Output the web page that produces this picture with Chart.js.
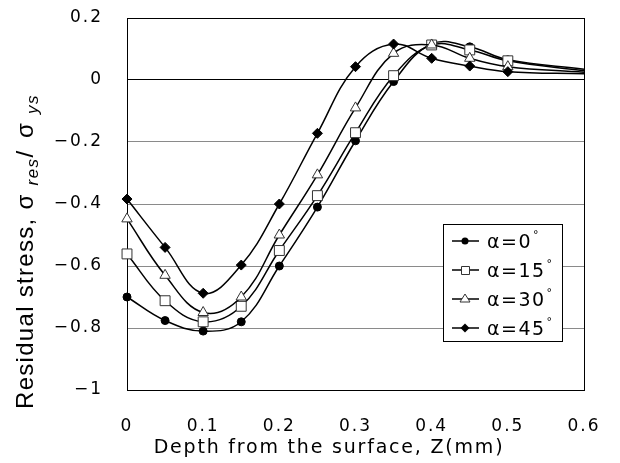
<!DOCTYPE html>
<html>
<head>
<meta charset="utf-8">
<script src="https://cdn.jsdelivr.net/npm/chart.js@4.4.1/dist/chart.umd.min.js"></script>
<style>
html, body { margin: 0; padding: 0; background: #fff; }
</style>
</head>
<body>
<canvas id="chart" width="620" height="463"></canvas>
<script>
// depth (mm) and normalised residual stress
const depth   = [0, 0.05, 0.1, 0.15, 0.2, 0.25, 0.3, 0.35, 0.4, 0.45, 0.5, 0.6];
const alpha0  = [-0.70, -0.776, -0.81, -0.78, -0.60, -0.41, -0.196, -0.005, 0.116, 0.107, 0.065, 0.035];
const alpha15 = [-0.561, -0.712, -0.78, -0.73, -0.55, -0.373, -0.17, 0.014, 0.113, 0.097, 0.062, 0.03];
const alpha30 = [-0.448, -0.63, -0.75, -0.70, -0.50, -0.306, -0.09, 0.086, 0.113, 0.07, 0.043, 0.025];
const alpha45 = [-0.384, -0.54, -0.688, -0.597, -0.40, -0.172, 0.043, 0.116, 0.07, 0.045, 0.027, 0.02];
const seriesNames = ["α=0", "α=15", "α=30", "α=45"];
const xTicks = [0, 0.1, 0.2, 0.3, 0.4, 0.5, 0.6];
const yTicks = [0.2, 0, -0.2, -0.4, -0.6, -0.8, -1];

const tickFont = "DejaVu Sans";

function pts(vals) {
    return vals.map((v, i) => ({ x: depth[i], y: v }));
}
// no marker on the last (tail) point
const radii = (r) => depth.map((d, i) => i === depth.length - 1 ? 0 : r);

const styles = [
    { pointStyle: "circle", r: 4, fill: "#000" },
    { pointStyle: "rect", r: 7, fill: "#fff" },
    { pointStyle: "triangle", r: 6, fill: "#fff" },
    { pointStyle: "rectRot", r: 5, fill: "#000" }
];
const allSeries = [alpha0, alpha15, alpha30, alpha45];

let data = {
    datasets: allSeries.map((s, k) => ({
        label: seriesNames[k],
        data: pts(s),
        borderColor: "#000",
        borderWidth: 1.5,
        backgroundColor: styles[k].fill,
        pointStyle: styles[k].pointStyle,
        pointRadius: radii(styles[k].r),
        pointBackgroundColor: styles[k].fill,
        pointBorderColor: k === 0 || k === 3 ? "#000" : "#333",
        pointBorderWidth: 1,
        tension: 0.4,
        clip: false
    })).reverse()
};

/* letter spacing for library-drawn ticks */
const spacing = {
    id: "spacing",
    beforeDraw(chart) { chart.ctx.letterSpacing = "2px"; },
    afterDraw(chart) { chart.ctx.letterSpacing = "0px"; }
};

/* frame round the plot area */
const frame = {
    id: "frame",
    beforeDatasetsDraw(chart) {
        const a = chart.chartArea, ctx = chart.ctx;
        ctx.save();
        ctx.strokeStyle = "#000";
        ctx.lineWidth = 1;
        ctx.strokeRect(Math.round(a.left) + 0.5, Math.round(a.top) + 0.5,
            Math.round(a.right - a.left), Math.round(a.bottom - a.top));
        ctx.restore();
    }
};

/* axis titles with subscripts, and the legend box */
const extras = {
    id: "extras",
    afterDraw(chart) {
        const ctx = chart.ctx;
        ctx.save();
        ctx.fillStyle = "#000";
        ctx.textBaseline = "alphabetic";

        // x title
        ctx.letterSpacing = "1.8px";
        ctx.font = "19px 'DejaVu Sans'";
        ctx.textAlign = "center";
        ctx.fillText("Depth from the surface, Z(mm)", 329, 453);

        // y title
        ctx.textAlign = "left";
        ctx.save();
        ctx.translate(33, 409);
        ctx.rotate(-Math.PI / 2);
        const segs = [
            { t: "Residual stress, ", f: "24px 'Liberation Sans'", dy: 0, w: 0, ls: "1.3px" },
            { t: "σ", f: "24px 'Liberation Sans'", dy: 0, w: 24, ls: "0px" },
            { t: "res", f: "italic 17px 'Liberation Sans'", dy: 5, w: 0, ls: "1.5px" },
            { t: "/ ", f: "24px 'Liberation Sans'", dy: 0, w: 0, ls: "3px" },
            { t: "σ", f: "24px 'Liberation Sans'", dy: 0, w: 24, ls: "0px" },
            { t: "ys", f: "italic 17px 'Liberation Sans'", dy: 5, w: 0, ls: "1.5px" }
        ];
        let pos = 0;
        for (const s of segs) {
            ctx.font = s.f;
            ctx.letterSpacing = s.ls;
            ctx.fillText(s.t, pos, s.dy);
            pos += Math.max(ctx.measureText(s.t).width, s.w);
        }
        ctx.restore();

        // legend
        const L = 443, T = 224, R = 562, B = 341;
        ctx.letterSpacing = "0px";
        ctx.fillStyle = "#fff";
        ctx.fillRect(L, T, R - L, B - T);
        ctx.strokeStyle = "#000";
        ctx.lineWidth = 1;
        ctx.strokeRect(L + 0.5, T + 0.5, R - L, B - T);
        const rows = [241, 270, 299, 328];
        for (let k = 0; k < 4; k++) {
            const y = rows[k];
            ctx.strokeStyle = "#000";
            ctx.lineWidth = 1.5;
            ctx.beginPath();
            ctx.moveTo(452, y);
            ctx.lineTo(479, y);
            ctx.stroke();
            ctx.lineWidth = 1;
            ctx.beginPath();
            if (k === 0) {
                ctx.arc(465, y, 3.5, 0, Math.PI * 2);
                ctx.fillStyle = "#000";
                ctx.fill();
            } else if (k === 1) {
                ctx.rect(461.5, y - 3.5, 8, 8);
                ctx.fillStyle = "#fff";
                ctx.fill();
                ctx.strokeStyle = "#333";
                ctx.stroke();
            } else if (k === 2) {
                ctx.moveTo(465, y - 5);
                ctx.lineTo(470, y + 3);
                ctx.lineTo(460, y + 3);
                ctx.closePath();
                ctx.fillStyle = "#fff";
                ctx.fill();
                ctx.strokeStyle = "#333";
                ctx.stroke();
            } else {
                ctx.moveTo(465, y - 4.5);
                ctx.lineTo(469.5, y);
                ctx.lineTo(465, y + 4.5);
                ctx.lineTo(460.5, y);
                ctx.closePath();
                ctx.fillStyle = "#000";
                ctx.fill();
            }
            ctx.fillStyle = "#000";
            ctx.letterSpacing = "1.5px";
            ctx.font = "19px 'DejaVu Sans'";
            ctx.fillText(seriesNames[k], 487, y + 7);
            const w = ctx.measureText(seriesNames[k]).width;
            ctx.font = "11px 'DejaVu Sans'";
            ctx.fillText("°", 487 + w + 1, y - 3);
        }
        ctx.restore();
    }
};

// ticks.padding also pads the plot area in Chart.js 4, so the label gap
// comes from an invisible tick mark instead
const config = {
    type: "line",
    data: data,
    options: {
        responsive: false,
        animation: false,
        layout: { autoPadding: false, padding: { top: 18, right: 36, left: 0, bottom: 0 } },
        plugins: { legend: { display: false }, tooltip: { enabled: false } },
        scales: {
            x: {
                type: "linear",
                min: 0,
                max: 0.6,
                afterBuildTicks: (s) => { s.ticks = xTicks.map(v => ({ value: v })); },
                afterFit: (s) => { s.height = 73; },
                ticks: {
                    color: "#000",
                    padding: 0,
                    maxRotation: 0,
                    autoSkip: false,
                    font: { family: tickFont, size: 17 },
                    callback: (v) => v === 0 ? "0" : v.toFixed(1)
                },
                grid: {
                    color: "rgba(0,0,0,0)",
                    drawOnChartArea: false,
                    drawTicks: true,
                    tickLength: 26,
                    tickColor: "rgba(0,0,0,0)"
                },
                border: { display: true, color: "#000", width: 1 }
            },
            y: {
                min: -1,
                max: 0.2,
                afterBuildTicks: (s) => { s.ticks = yTicks.map(v => ({ value: v })); },
                afterFit: (s) => { s.width = 127; },
                ticks: {
                    color: "#000",
                    padding: 0,
                    autoSkip: false,
                    font: { family: tickFont, size: 17 },
                    callback: (v) => {
                        const r = Math.round(v * 10) / 10;
                        if (r === 0) return "0";
                        if (r === -1) return "\u22121";
                        return (r < 0 ? "\u2212" : "") + Math.abs(r).toFixed(1);
                    }
                },
                grid: {
                    drawTicks: true,
                    tickLength: 24,
                    tickColor: "rgba(0,0,0,0)",
                    color: (c) => c.tick && Math.abs(c.tick.value) < 1e-9 ? "#000" : "#8a8a8a",
                    lineWidth: 1
                },
                border: { display: true, color: "#000", width: 1 }
            }
        }
    },
    plugins: [spacing, frame, extras]
};

window.onload = (function () {
    const chart = new Chart(document.getElementById("chart"), config);
});
</script>
</body>
</html>
